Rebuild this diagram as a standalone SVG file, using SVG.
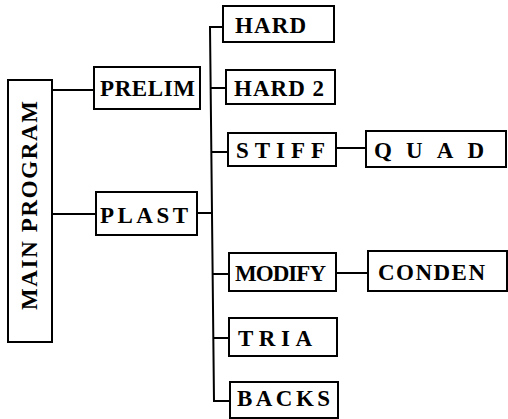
<svg xmlns="http://www.w3.org/2000/svg" width="508" height="419" viewBox="0 0 508 419">
<style>
.box{fill:#fff;stroke:#000;stroke-width:2}
.ln{fill:none;stroke:#000;stroke-width:2}
text{font-family:"Liberation Serif","Times New Roman",serif;font-weight:bold;font-size:23px;fill:#000}
</style>
<rect width="508" height="419" fill="#fff"/>
<g id="connectors">
<line class="ln" x1="52" y1="90" x2="94" y2="90"/>
<line class="ln" x1="52" y1="214" x2="96" y2="214"/>
<line class="ln" x1="197" y1="213" x2="212" y2="213"/>
<polyline class="ln" points="223,27 210,27 214,401 230,401"/>
<line class="ln" x1="211" y1="88" x2="226" y2="88"/>
<line class="ln" x1="211" y1="152" x2="228" y2="152"/>
<line class="ln" x1="213" y1="274" x2="229" y2="274"/>
<line class="ln" x1="213" y1="338" x2="229" y2="338"/>
<line class="ln" x1="336" y1="148" x2="366" y2="148"/>
<line class="ln" x1="336" y1="273" x2="368" y2="273"/>
</g>
<g id="main">
<rect class="box" x="8" y="80" width="44" height="262"/>
<text transform="translate(37,310) rotate(-90)" textLength="209" lengthAdjust="spacing">MAIN PROGRAM</text>
</g>
<g id="prelim">
<rect class="box" x="94" y="67" width="106" height="42"/>
<text x="100" y="96" textLength="95" lengthAdjust="spacing">PRELIM</text>
</g>
<g id="plast">
<rect class="box" x="96" y="192" width="101" height="43"/>
<text x="100" y="223" textLength="88" lengthAdjust="spacing">PLAST</text>
</g>
<g id="hard">
<rect class="box" x="223" y="6" width="111" height="36"/>
<text x="235" y="33" textLength="71" lengthAdjust="spacing">HARD</text>
</g>
<g id="hard2">
<rect class="box" x="226" y="70" width="109" height="34"/>
<text x="234" y="96" textLength="90" lengthAdjust="spacing">HARD 2</text>
</g>
<g id="stiff">
<rect class="box" x="228" y="133" width="108" height="33"/>
<text x="236" y="158" textLength="89" lengthAdjust="spacing">STIFF</text>
</g>
<g id="quad">
<rect class="box" x="366" y="131" width="140" height="36"/>
<text x="374" y="158" textLength="110" lengthAdjust="spacing">QUAD</text>
</g>
<g id="modify">
<rect class="box" x="229" y="253" width="107" height="38"/>
<text x="235" y="281" textLength="91" lengthAdjust="spacing">MODIFY</text>
</g>
<g id="conden">
<rect class="box" x="368" y="251" width="139" height="40"/>
<text x="378" y="280" textLength="107" lengthAdjust="spacing">CONDEN</text>
</g>
<g id="tria">
<rect class="box" x="229" y="318" width="108" height="38"/>
<text x="238" y="346" textLength="74" lengthAdjust="spacing">TRIA</text>
</g>
<g id="backs">
<rect class="box" x="230" y="382" width="108" height="36"/>
<text x="237" y="406" textLength="93" lengthAdjust="spacing">BACKS</text>
</g>
</svg>
